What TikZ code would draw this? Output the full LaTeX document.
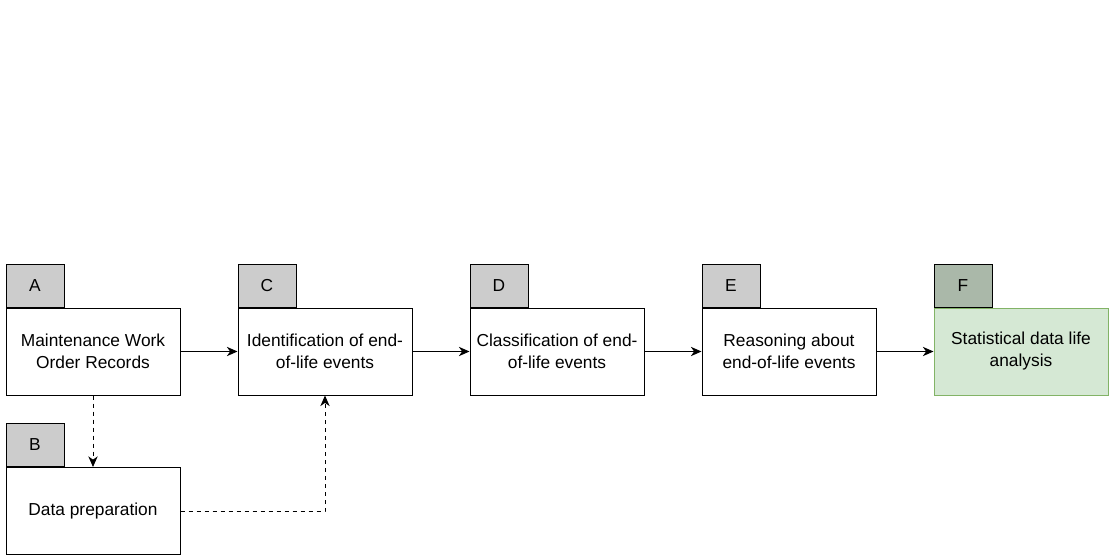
\documentclass[tikz,border=0pt]{standalone}
\usepackage{fontspec}
\setmainfont{Liberation Sans}
\usetikzlibrary{arrows.meta}
\definecolor{tabgray}{HTML}{CCCCCC}
\definecolor{tabgreen}{HTML}{AAB8A9}
\definecolor{boxgreen}{HTML}{D5E8D4}
\definecolor{linegreen}{HTML}{82B366}
\tikzset{
  stage/.style={draw, line width=0.75pt, fill=white, minimum width=130.5pt, minimum height=65.25pt, inner sep=0pt, align=center, font=\fontsize{13}{16.5}\selectfont},
  tab/.style={draw, line width=0.75pt, fill=tabgray, minimum width=43.5pt, minimum height=32.25pt, inner sep=0pt, anchor=south west, font=\fontsize{13}{16.5}\selectfont},
  flow/.style={line width=0.75pt, -{Stealth[length=8pt,width=7pt,inset=2.5pt]}}
}
\begin{document}
\begin{tikzpicture}[x=0.75pt, y=-0.75pt]
% Flujo de etapas A -- F
\useasboundingbox (0,0) rectangle (1113,560);
\node[stage] (boxA) at (93,351.5) {Maintenance Work\\Order Records};
\node[stage] (boxC) at (325,351.5) {Identification of end-\\of-life events};
\node[stage] (boxD) at (557,351.5) {Classification of end-\\of-life events};
\node[stage] (boxE) at (789,351.5) {Reasoning about\\end-of-life events};
\node[stage, fill=boxgreen, draw=linegreen] (boxF) at (1021,351.5) {Statistical data life\\analysis};
\node[stage] (boxB) at (93,511) {Data preparation};
\node[tab] (tabA) at (boxA.north west) {A};
\node[tab] (tabC) at (boxC.north west) {C};
\node[tab] (tabD) at (boxD.north west) {D};
\node[tab] (tabE) at (boxE.north west) {E};
\node[tab, fill=tabgreen] (tabF) at (boxF.north west) {F};
\node[tab] (tabB) at (boxB.north west) {B};
\draw[flow] (boxA) -- (boxC);
\draw[flow] (boxC) -- (boxD);
\draw[flow] (boxD) -- (boxE);
\draw[flow] (boxE) -- (boxF);
\draw[flow, dashed] (boxA.south) -- (boxB.north);
\draw[flow, dashed] (boxB.east) -| (boxC.south);
\end{tikzpicture}
\end{document}
